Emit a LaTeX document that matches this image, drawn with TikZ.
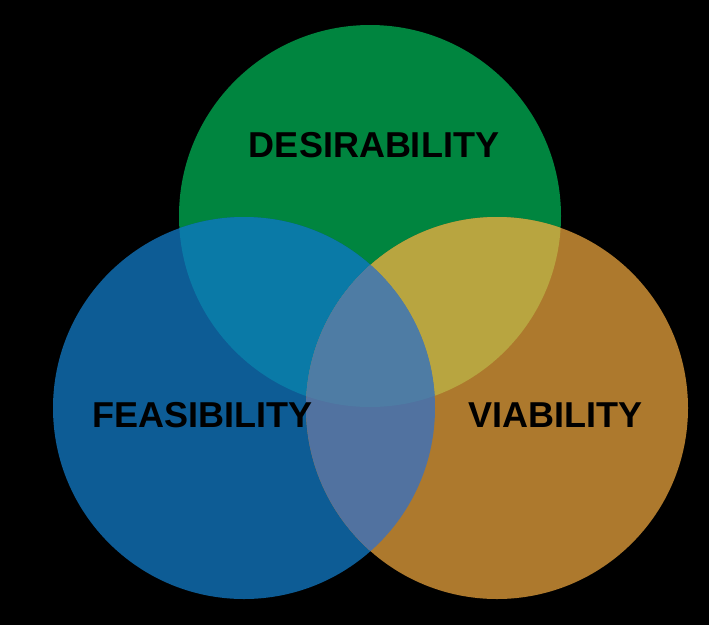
\documentclass[tikz,border=0pt]{standalone}
\usepackage{fontspec}
\setmainfont{Liberation Sans}
\usepackage{xcolor}
\definecolor{desgreen}{HTML}{00853F}
\definecolor{feablue}{HTML}{0D5C95}
\definecolor{viaorange}{HTML}{AD792D}
\definecolor{desfea}{HTML}{0A7AA7}
\definecolor{desvia}{HTML}{B8A540}
\definecolor{feavia}{HTML}{5172A0}
\definecolor{allthree}{HTML}{4E7CA4}
\def\rad{191pt}
\def\lbl{\fontsize{36}{40}\selectfont\bfseries}

\begin{document}
\begin{tikzpicture}[x=1pt, y=-1pt]
	\fill[black] (0,0) rectangle (709,625);
	\coordinate (des) at (370,216);
	\coordinate (fea) at (244,408);
	\coordinate (via) at (497,408);
	\fill[desgreen] (des) circle (\rad);
	\fill[feablue] (fea) circle (\rad);
	\fill[viaorange] (via) circle (\rad);
	% pairwise overlaps
	\begin{scope}
		\clip (des) circle (\rad);
		\fill[desfea] (fea) circle (\rad);
		\fill[desvia] (via) circle (\rad);
	\end{scope}
	\begin{scope}
		\clip (fea) circle (\rad);
		\fill[feavia] (via) circle (\rad);
	\end{scope}
	% middle
	\begin{scope}
		\clip (des) circle (\rad);
		\clip (fea) circle (\rad);
		\fill[allthree] (via) circle (\rad);
	\end{scope}
	\node[inner sep=0] (desirability) at (374,145.5) {\lbl DESIRABILITY};
	\node[inner sep=0] (feasibility) at (202.5,415.5) {\lbl FEASIBILITY};
	\node[inner sep=0] (viability) at (555,415.5) {\lbl VIABILITY};
\end{tikzpicture}
\end{document}
